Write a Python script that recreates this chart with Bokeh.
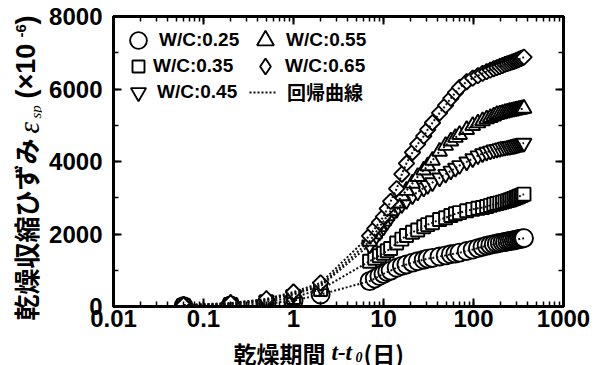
import numpy as np
from bokeh.plotting import figure
from bokeh.layouts import row, column
from bokeh.models import (LogAxis, LinearAxis, LogTicker, SingleIntervalTicker, Legend, LegendItem,
                          Label, CustomJSTickFormatter, Range1d)
from bokeh.embed import file_html
from bokeh.resources import INLINE

# ---- data ----
t_days = [0.06, 0.2, 0.5, 1, 2, 7, 8, 9, 10, 11, 12, 14, 16, 18, 21, 24, 28, 31, 35, 42, 49, 56, 63, 70,
          84, 98, 112, 126, 140, 154, 168, 182, 196, 210, 224, 238, 252, 266, 280, 294, 308, 322, 336, 350, 364]

wc025 = [10, 30, 80, 160, 330, 700, 770, 840, 900, 950, 990, 1070, 1120, 1160, 1210, 1250, 1290, 1320, 1340,
         1380, 1410, 1440, 1460, 1485, 1530, 1570, 1610, 1645, 1680, 1700, 1720, 1740, 1755, 1770, 1780, 1795,
         1805, 1815, 1825, 1840, 1850, 1860, 1868, 1875, 1885]
wc035 = [20, 55, 130, 250, 470, 1250, 1330, 1400, 1470, 1540, 1600, 1750, 1860, 1960, 2050, 2110, 2200, 2260,
         2310, 2400, 2450, 2510, 2560, 2590, 2640, 2680, 2710, 2730, 2760, 2790, 2820, 2840, 2860, 2880, 2900,
         2920, 2940, 2960, 2980, 3000, 3020, 3040, 3060, 3080, 3100]
wc045 = [30, 75, 170, 330, 560, 1700, 1880, 2050, 2200, 2350, 2480, 2680, 2820, 2930, 3060, 3160, 3270, 3340,
         3420, 3550, 3650, 3740, 3820, 3890, 3990, 4080, 4160, 4220, 4260, 4290, 4320, 4340, 4360, 4380, 4400,
         4410, 4420, 4430, 4440, 4455, 4465, 4480, 4490, 4500, 4510]
wc055 = [35, 85, 190, 360, 600, 1800, 2000, 2200, 2350, 2500, 2640, 2850, 3050, 3200, 3400, 3580, 3760, 3880,
         4030, 4280, 4440, 4560, 4660, 4740, 4880, 4990, 5060, 5120, 5170, 5210, 5250, 5290, 5310, 5330, 5350,
         5365, 5380, 5390, 5405, 5415, 5425, 5435, 5445, 5455, 5465]
wc065 = [40, 95, 210, 400, 650, 1950, 2150, 2320, 2480, 2700, 2900, 3250, 3650, 3950, 4250, 4480, 4700, 4880,
         5070, 5340, 5550, 5740, 5900, 6040, 6200, 6300, 6370, 6430, 6480, 6520, 6560, 6590, 6620, 6650, 6680,
         6700, 6720, 6740, 6760, 6780, 6800, 6820, 6840, 6860, 6880]

series_labels = ["W/C:0.25", "W/C:0.35", "W/C:0.45", "W/C:0.55", "W/C:0.65"]
curve_label = "回帰曲線"

W, H = 601, 365
YL = 42            # width of the strip holding the y title
MH = 338           # height of the main figure
FL, FR, FT, FB = 113, 563, 16, 306   # frame edges in page pixels

CJK = "Noto Sans CJK JP"
SERIF = "Liberation Serif"
SANS = "Liberation Sans"

p = figure(width=W - YL, height=MH, x_axis_type="log", output_backend="svg", toolbar_location=None,
           x_range=Range1d(0.01, 1000), y_range=Range1d(0, 8000),
           min_border_left=FL - YL, min_border_right=W - FR, min_border_top=FT, min_border_bottom=MH - FB)
p.grid.visible = False
p.outline_line_color = "black"
p.outline_line_width = 3
p.background_fill_color = "white"
p.border_fill_color = "white"

fmt = CustomJSTickFormatter(code="return Number(tick.toPrecision(6)).toString();")
blank = CustomJSTickFormatter(code="return '';")
xt = LogTicker(desired_num_ticks=6, num_minor_ticks=10)
yt = SingleIntervalTicker(interval=2000, num_minor_ticks=2)

def style_axis(ax, show_labels):
    ax.axis_line_width = 3
    ax.axis_line_color = "black"
    ax.major_tick_in = 8
    ax.major_tick_out = 0
    ax.minor_tick_in = 5
    ax.minor_tick_out = 0
    ax.major_tick_line_width = 2
    ax.minor_tick_line_width = 1.5
    ax.major_tick_line_color = "black"
    ax.minor_tick_line_color = "black"
    if show_labels:
        ax.major_label_text_font = SANS
        ax.major_label_text_font_style = "bold"
        ax.major_label_text_font_size = "24px"
        ax.major_label_text_color = "black"
    else:
        ax.formatter = blank
        ax.major_label_standoff = 0

xa = p.xaxis[0]
xa.ticker = xt
xa.formatter = fmt
style_axis(xa, True)
xa.major_label_standoff = 3
ya = p.yaxis[0]
ya.ticker = yt
style_axis(ya, True)
ya.major_label_standoff = 11

top = LogAxis(ticker=xt)
style_axis(top, False)
p.add_layout(top, "above")
right = LinearAxis(ticker=yt)
style_axis(right, False)
p.add_layout(right, "right")

mk = dict(fill_color="white", line_color="black", line_width=1.9)
r25 = p.scatter(t_days, wc025, marker="circle", size=18, **mk)
r35 = p.scatter(t_days, wc035, marker="square", size=13, **mk)
r45 = p.scatter(t_days, wc045, marker="inverted_triangle", size=15, **mk)
r55 = p.scatter(t_days, wc055, marker="triangle", size=15, **mk)
r65 = p.scatter(t_days, wc065, marker="square", angle=np.pi / 4, size=11, **mk)
# hidden twin of the diamond series, used only for its legend symbol
r65_leg = p.scatter(t_days, wc065, marker="diamond", size=15, visible=False, **mk)

lines = []
for vals in [wc025, wc035, wc045, wc055, wc065]:
    lines.append(p.line(t_days, vals, line_color="#111111", line_width=2, line_dash="2 2"))

def one_legend(label, rend, xc, yc, g, text_x, font=SANS, gw=None):
    gw = g if gw is None else gw
    lg = Legend(items=[LegendItem(label=label, renderers=[rend])],
                location=(xc - gw / 2 - FL, FB - (yc + g / 2)),
                glyph_width=int(gw), glyph_height=int(g), label_height=int(g), spacing=0,
                label_standoff=int(text_x - (xc + gw / 2)),
                border_line_color=None, background_fill_alpha=0, padding=0, margin=0,
                inactive_fill_alpha=0,
                label_text_font=font, label_text_font_style="bold",
                label_text_font_size="19px", label_text_color="black")
    p.add_layout(lg, "center")

one_legend(series_labels[0], r25, 138, 40, 42, 153)
one_legend(series_labels[1], r35, 138, 66, 30, 153)
one_legend(series_labels[2], r45, 138, 92, 38, 153)
one_legend(series_labels[3], r55, 265, 40, 42, 278)
one_legend(series_labels[4], r65_leg, 265, 66, 40, 278)
one_legend(curve_label, lines[0], 263, 92, 26, 287, font=CJK, gw=28)

# ---- strips that carry the axis titles ----
def strip(w, h):
    f = figure(width=w, height=h, output_backend="svg", toolbar_location=None,
               x_range=Range1d(0, w), y_range=Range1d(0, h), min_border=0,
               x_axis_location=None, y_axis_location=None)
    f.grid.visible = False
    f.outline_line_color = None
    f.background_fill_color = "white"
    f.border_fill_color = "white"
    return f

def lab(f, text, cx, cy, font, size, style="bold", angle=0.0):
    f.add_layout(Label(x=cx, y=cy, x_units="canvas", y_units="canvas", text=text, angle=angle,
                       text_font=font, text_font_style=style, text_font_size=size,
                       text_align="left", text_baseline="middle", text_color="black"))

xs = strip(W - YL, H - MH)
ox, oy = YL, MH      # page offset of the x-title strip
lab(xs, "乾燥期間", 233 - ox, 352 - oy, CJK, "23px")
lab(xs, "t-t", 331 - ox, 352 - oy, SERIF, "23px", "bold italic")
lab(xs, "0", 355 - ox, 356 - oy, SERIF, "14px", "bold italic")
lab(xs, "(日)", 363 - ox, 352 - oy, CJK, "23px")

ys = strip(YL, H)
a = np.pi / 2
lab(ys, "乾燥収縮ひずみ", 25, 320, CJK, "26px", angle=a)
lab(ys, "ε", 28, 133, SERIF, "29px", "italic", angle=a)
lab(ys, "sp", 35, 118, SERIF, "15px", "italic", angle=a)
lab(ys, "(×10", 25, 98, SANS, "27px", angle=a)
lab(ys, "-6", 20, 37, SANS, "15px", angle=a)
lab(ys, ")", 25, 24, SANS, "27px", angle=a)

layout = row(ys, column(p, xs, spacing=0), spacing=0)
open("out.html", "w").write(file_html(layout, INLINE))
